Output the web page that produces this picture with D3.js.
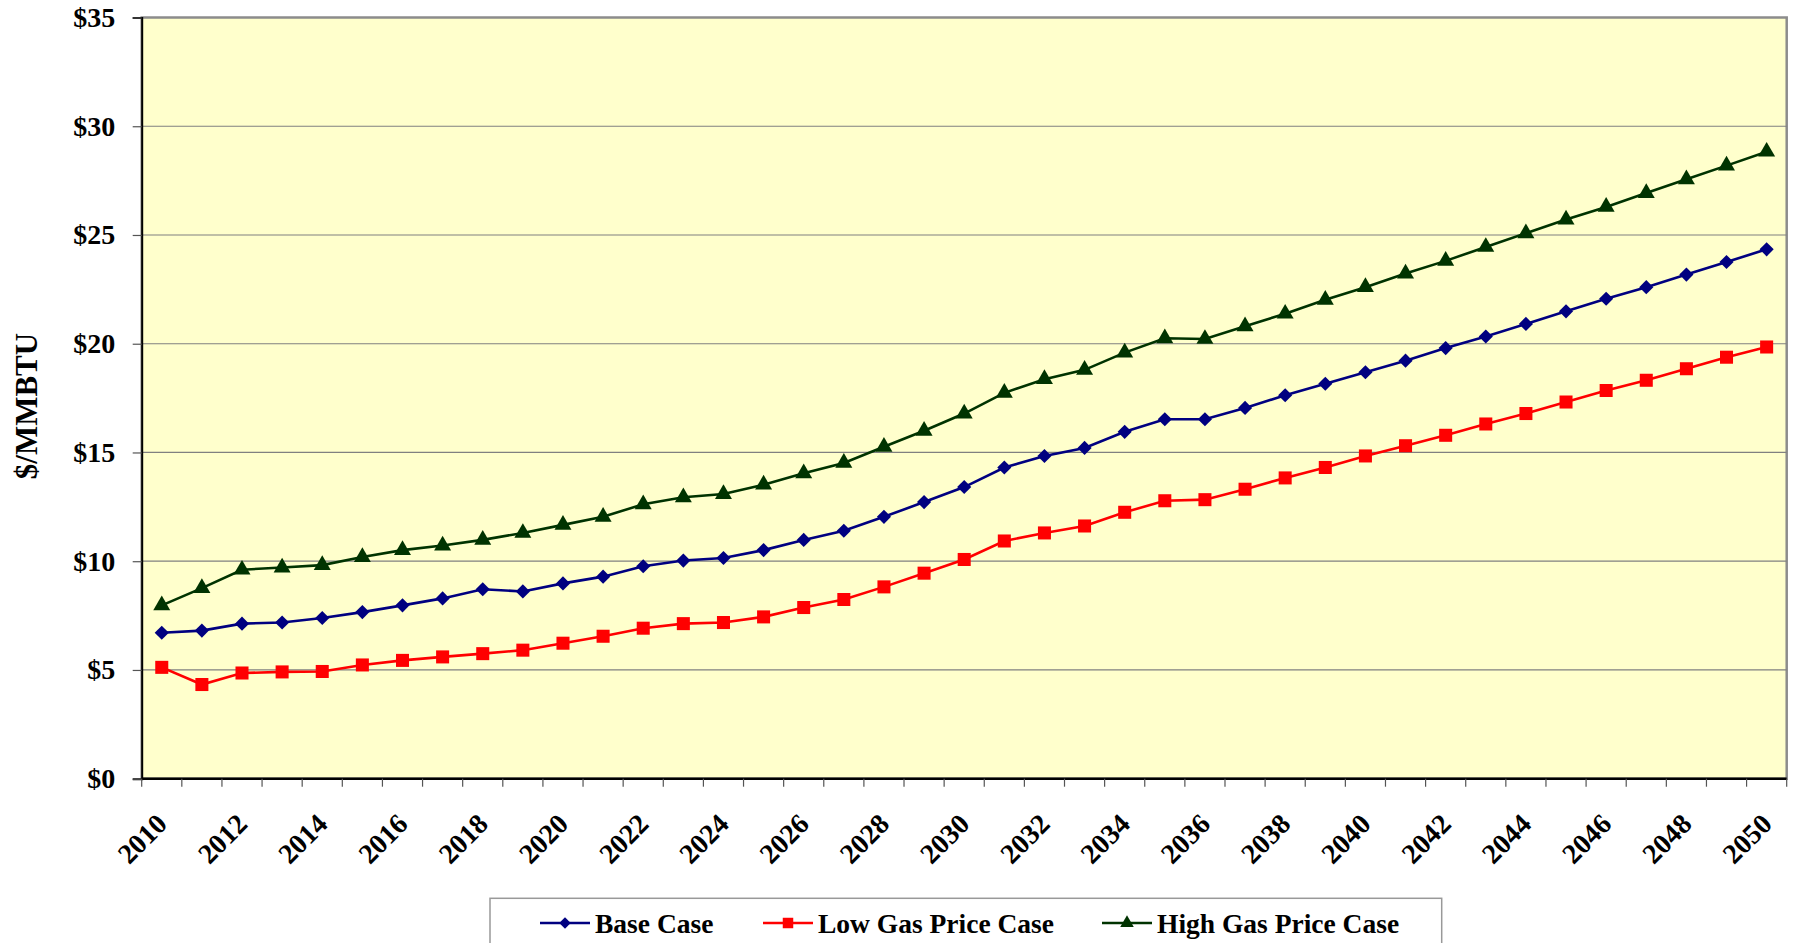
<!DOCTYPE html>
<html>
<head>
<meta charset="utf-8">
<script src="https://cdn.jsdelivr.net/npm/d3@7"></script>
<style>
  body { margin: 0; background: #fff; }
  svg { display: block; }
  text { font-family: "Liberation Serif", "DejaVu Serif", serif; font-weight: bold; fill: #000; }
</style>
</head>
<body>
<script>
const years = d3.range(2010, 2051);

const baseCase = [6.71, 6.81, 7.13, 7.18, 7.39, 7.66, 7.97, 8.29, 8.71, 8.61,
                  8.98, 9.29, 9.77, 10.03, 10.15, 10.51, 10.98, 11.40, 12.04, 12.72,
                  13.41, 14.31, 14.84, 15.21, 15.95, 16.53, 16.53, 17.05, 17.63, 18.16,
                  18.69, 19.22, 19.80, 20.33, 20.91, 21.49, 22.07, 22.60, 23.18, 23.76, 24.34];

const lowCase = [5.12, 4.33, 4.86, 4.91, 4.93, 5.23, 5.44, 5.60, 5.75, 5.91,
                 6.23, 6.55, 6.92, 7.13, 7.18, 7.44, 7.87, 8.24, 8.82, 9.45,
                 10.08, 10.93, 11.30, 11.62, 12.25, 12.78, 12.83, 13.31, 13.83, 14.31,
                 14.84, 15.31, 15.79, 16.31, 16.79, 17.32, 17.85, 18.32, 18.85, 19.38, 19.85];

const highCase = [7.97, 8.76, 9.61, 9.71, 9.82, 10.19, 10.51, 10.72, 10.98, 11.30,
                  11.67, 12.04, 12.62, 12.94, 13.09, 13.52, 14.04, 14.52, 15.26, 16.00,
                  16.79, 17.74, 18.37, 18.80, 19.59, 20.25, 20.22, 20.80, 21.38, 22.02,
                  22.60, 23.23, 23.81, 24.45, 25.08, 25.71, 26.29, 26.93, 27.56, 28.19, 28.83];

const yTicks = [0, 5, 10, 15, 20, 25, 30, 35];

// diamond = square turned 45 degrees (Excel style)
const series = [
  {name: "Base Case", values: baseCase, color: "#000080", symbol: d3.symbolSquare, rot: 45, size: 100, legSize: 65},
  {name: "Low Gas Price Case", values: lowCase, color: "#ff0000", symbol: d3.symbolSquare, rot: 0, size: 170, legSize: 110},
  {name: "High Gas Price Case", values: highCase, color: "#003300", symbol: d3.symbolTriangle, rot: 0, size: 125, legSize: 80}
];

const W = 1801, H = 943;
const plotL = 141.7, plotR = 1786.7, plotT = 17.5, plotB = 778.7;

const svg = d3.select("body").append("svg")
  .attr("width", W).attr("height", H);

const x = d3.scaleBand().domain(years).range([plotL, plotR]);
const y = d3.scaleLinear().domain([0, 35]).range([plotB, plotT]);
const bw = x.bandwidth();
const cx = d => x(d) + bw / 2;

// plot area
svg.append("rect")
  .attr("x", plotL).attr("y", plotT)
  .attr("width", plotR - plotL).attr("height", plotB - plotT)
  .attr("fill", "#ffffcc")
  .attr("stroke", "#8c8c8c").attr("stroke-width", 2.5);

// gridlines
svg.append("g")
  .selectAll("line")
  .data(yTicks.filter(d => d > 0 && d < 35))
  .enter().append("line")
  .attr("x1", plotL).attr("x2", plotR)
  .attr("y1", d => y(d)).attr("y2", d => y(d))
  .attr("stroke", "#808080").attr("stroke-width", 1.2);

// y axis
const yAxis = d3.axisLeft(y).tickValues(yTicks)
  .tickFormat(d => "$" + d).tickSize(9).tickPadding(17.5);
const gy = svg.append("g").attr("transform", "translate(" + plotL + ",0)").call(yAxis);
gy.select(".domain").attr("stroke", "#000").attr("stroke-width", 2);
gy.selectAll(".tick line").attr("stroke", "#555").attr("stroke-width", 1.2);
gy.selectAll(".tick text").style("font-size", "28px").attr("fill", "#000");

// x axis line + ticks at category boundaries
svg.append("line")
  .attr("x1", plotL).attr("x2", plotR).attr("y1", plotB).attr("y2", plotB)
  .attr("stroke", "#000").attr("stroke-width", 2.5);
svg.append("g")
  .selectAll("line")
  .data(years.map(d => x(d)).concat([plotR]))
  .enter().append("line")
  .attr("x1", d => d).attr("x2", d => d)
  .attr("y1", plotB).attr("y2", plotB + 8)
  .attr("stroke", "#555").attr("stroke-width", 1.2);

// x labels
svg.append("g")
  .selectAll("text")
  .data(years.filter(d => d % 2 === 0))
  .enter().append("text")
  .attr("text-anchor", "end")
  .attr("transform", d => "translate(" + (cx(d) + 7) + "," + (plotB + 47) + ") rotate(-45)")
  .style("font-size", "28px")
  .text(d => d);

// y title
svg.append("text")
  .attr("text-anchor", "middle")
  .attr("transform", "translate(37,406) rotate(-90)")
  .style("font-size", "31px")
  .text("$/MMBTU");

// lines and markers
const line = d3.line()
  .x((d, i) => cx(years[i]))
  .y(d => y(d));

series.forEach(s => {
  svg.append("path")
    .datum(s.values)
    .attr("d", line)
    .attr("fill", "none")
    .attr("stroke", s.color)
    .attr("stroke-width", 2.6);

  svg.append("g")
    .selectAll("path")
    .data(s.values)
    .enter().append("path")
    .attr("d", d3.symbol().type(s.symbol).size(s.size))
    .attr("transform", (d, i) => "translate(" + cx(years[i]) + "," + y(d) + ") rotate(" + s.rot + ")")
    .attr("fill", s.color);
});

// legend
const legend = svg.append("g");
legend.append("rect")
  .attr("x", 490).attr("y", 898.3)
  .attr("width", 951.7).attr("height", 80)
  .attr("fill", "#fff").attr("stroke", "#999").attr("stroke-width", 1.5);

const legX = [540, 763, 1102];
series.forEach((s, i) => {
  const g = legend.append("g").attr("transform", "translate(" + legX[i] + ",923)");
  g.append("line").attr("x1", 0).attr("x2", 50).attr("y1", 0).attr("y2", 0)
    .attr("stroke", s.color).attr("stroke-width", 2.6);
  g.append("path")
    .attr("d", d3.symbol().type(s.symbol).size(s.legSize))
    .attr("transform", "translate(25,0) rotate(" + s.rot + ")")
    .attr("fill", s.color);
  g.append("text")
    .attr("x", 55).attr("y", 9.5)
    .style("font-size", "27.5px")
    .text(s.name);
});
</script>
</body>
</html>
